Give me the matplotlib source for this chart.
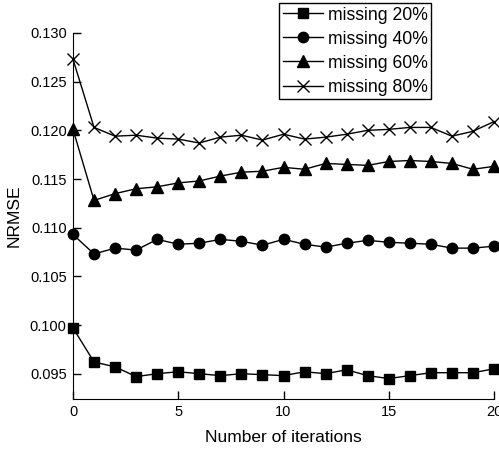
import matplotlib
matplotlib.use("Agg")
import matplotlib.pyplot as plt
import numpy as np

plt.rcParams['font.family'] = ['Liberation Sans', 'DejaVu Sans']

iterations = list(range(21))
m20 = [0.0997, 0.0962, 0.0957, 0.0947, 0.0950, 0.0952, 0.0950, 0.0948, 0.0950, 0.0949, 0.0948,
       0.0952, 0.0950, 0.0954, 0.0948, 0.0945, 0.0948, 0.0951, 0.0951, 0.0951, 0.0955]
m40 = [0.1093, 0.1073, 0.1079, 0.1077, 0.1088, 0.1083, 0.1084, 0.1088, 0.1086, 0.1082, 0.1088,
       0.1083, 0.1080, 0.1084, 0.1087, 0.1085, 0.1084, 0.1083, 0.1079, 0.1079, 0.1081]
m60 = [0.1201, 0.1128, 0.1135, 0.1140, 0.1142, 0.1146, 0.1148, 0.1153, 0.1157, 0.1158, 0.1162,
       0.1160, 0.1166, 0.1165, 0.1164, 0.1168, 0.1169, 0.1168, 0.1166, 0.1160, 0.1163]
m80 = [0.1273, 0.1203, 0.1194, 0.1195, 0.1192, 0.1191, 0.1187, 0.1193, 0.1195, 0.1190, 0.1196,
       0.1191, 0.1193, 0.1196, 0.1200, 0.1201, 0.1203, 0.1203, 0.1194, 0.1199, 0.1209]
labels = ["missing 20%", "missing 40%", "missing 60%", "missing 80%"]
xticks = [0, 5, 10, 15, 20]
yticks = [0.095, 0.100, 0.105, 0.110, 0.115, 0.120, 0.125, 0.130]

fig = plt.figure(figsize=(4.99, 4.57), dpi=100)
ax = fig.add_axes([73/499, 1-399/457, (494-73)/499, (399-33)/457])

ax.plot(iterations, m20, color='black', lw=1, marker='s', ms=6.5, label=labels[0], clip_on=False)
ax.plot(iterations, m40, color='black', lw=1, marker='o', ms=7.5, label=labels[1], clip_on=False)
ax.plot(iterations, m60, color='black', lw=1, marker='^', ms=8, label=labels[2], clip_on=False)
ax.plot(iterations, m80, color='black', lw=1, marker='x', ms=8, mew=1, label=labels[3], clip_on=False)

ax.set_xlim(0, 20)
ax.set_ylim(0.0924, 0.130)
ax.set_xticks(xticks)
ax.set_yticks(yticks)
ax.set_yticklabels([f"{v:.3f}" for v in yticks])
ax.spines['top'].set_visible(False)
ax.spines['right'].set_visible(False)
ax.tick_params(direction='in', length=6, width=1, labelsize=10.5, pad=4.5)
ax.set_xlabel("Number of iterations", fontsize=12.5, labelpad=8)
ax.set_ylabel("NRMSE", fontsize=12.5, labelpad=6)

leg = ax.legend(loc='upper right', bbox_to_anchor=(431/499, 1-3/457),
                bbox_transform=fig.transFigure, fontsize=12.7, frameon=True,
                fancybox=False, edgecolor='black', framealpha=1, borderaxespad=0,
                handlelength=2.3, labelspacing=0.4, borderpad=0.2, handletextpad=0.25)
leg.get_frame().set_linewidth(1)

fig.savefig("out.png", dpi=100)
